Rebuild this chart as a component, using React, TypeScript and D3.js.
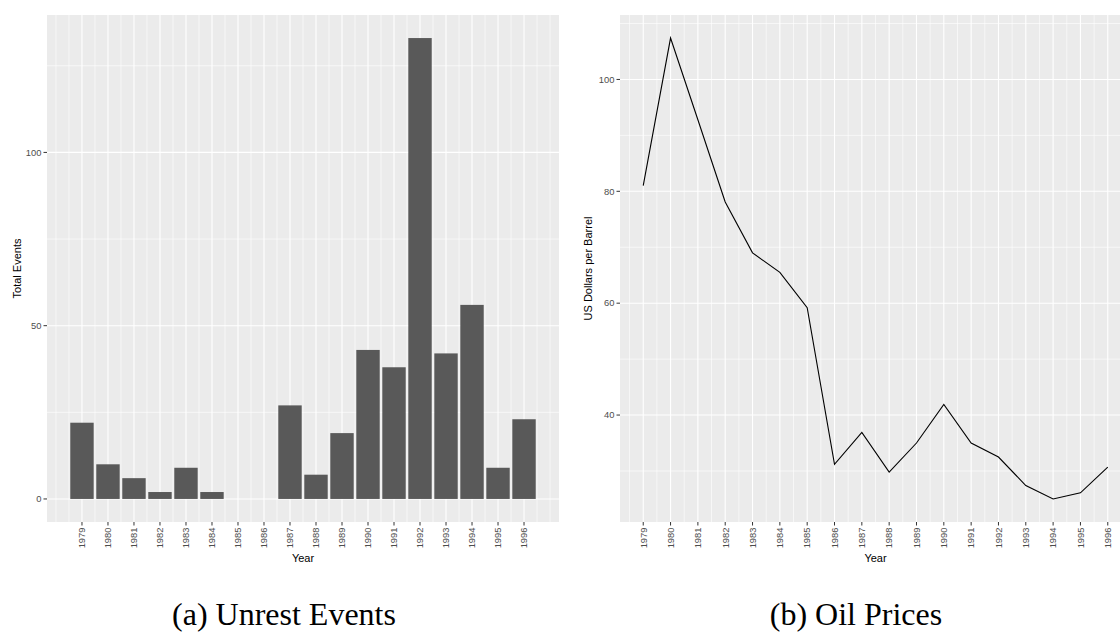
import React from 'react';
import {scaleLinear, line, range} from 'd3';

// data
const years = [1979, 1980, 1981, 1982, 1983, 1984, 1985, 1986, 1987, 1988, 1989, 1990, 1991, 1992, 1993, 1994, 1995, 1996];
const unrestEvents = [22, 10, 6, 2, 9, 2, 0, 0, 27, 7, 19, 43, 38, 133, 42, 56, 9, 23];
const oilPrices = [81.0, 107.4, 92.8, 78.1, 69.0, 65.5, 59.2, 31.2, 36.9, 29.8, 35.0, 41.9, 35.0, 32.5, 27.4, 25.0, 26.1, 30.7];

const eventTicks = [0, 50, 100];
const priceTicks = [40, 60, 80, 100];

const PANEL_BG = '#EBEBEB';
const BAR = '#595959';
const TICK_TEXT = '#4D4D4D';
const FONT = '"Liberation Sans", Arial, sans-serif';

const top = 15;
const bottom = 522;

// ggplot-style 5% expansion
const expand = (lo: number, hi: number) => {
    const d = (hi - lo) * 0.05;
    return [lo - d, hi + d];
};

// minor breaks: halfway between majors, one step beyond on each side
const minorBreaks = (majors: number[], domain: number[]) => {
    const step = majors[1] - majors[0];
    const ext = [majors[0] - step, ...majors, majors[majors.length - 1] + step];
    const out: number[] = [];
    for (let i = 0; i < ext.length - 1; i++) {
        out.push(ext[i] + step / 2);
    }
    ext.forEach(v => out.push(v));
    return out.filter(v => v >= domain[0] && v <= domain[1] && !majors.includes(v));
};

const Panel = ({x, y, xTitle, yTitle, yTitleX, children}: any) => {
    const [x0, x1] = x.range();
    const xd = x.domain();
    const yd = y.domain();
    const xMinor = minorBreaks(years, xd);
    const yMajor: number[] = y.ticksList;
    const yMinor = minorBreaks(yMajor, yd);
    const cx = (x0 + x1) / 2;
    return (
        <g>
            <rect x={x0} y={top} width={x1 - x0} height={bottom - top} fill={PANEL_BG}/>
            {yMinor.map(v => (
                <line key={'ym' + v} x1={x0} x2={x1} y1={y(v)} y2={y(v)} stroke="#fff" strokeWidth={0.6}/>
            ))}
            {xMinor.map(v => (
                <line key={'xm' + v} x1={x(v)} x2={x(v)} y1={top} y2={bottom} stroke="#fff" strokeWidth={0.6}/>
            ))}
            {yMajor.map(v => (
                <line key={'yM' + v} x1={x0} x2={x1} y1={y(v)} y2={y(v)} stroke="#fff" strokeWidth={1.1}/>
            ))}
            {years.map(v => (
                <line key={'xM' + v} x1={x(v)} x2={x(v)} y1={top} y2={bottom} stroke="#fff" strokeWidth={1.1}/>
            ))}
            {children}
            {yMajor.map(v => (
                <g key={'yt' + v}>
                    <line x1={x0 - 3.5} x2={x0} y1={y(v)} y2={y(v)} stroke="#333" strokeWidth={1}/>
                    <text x={x0 - 5.5} y={y(v)} dy="0.35em" textAnchor="end" fontSize={9.4} fill={TICK_TEXT} fontFamily={FONT}>{v}</text>
                </g>
            ))}
            {years.map(v => (
                <g key={'xt' + v}>
                    <line x1={x(v)} x2={x(v)} y1={bottom} y2={bottom + 3.5} stroke="#333" strokeWidth={1}/>
                    <text transform={`translate(${x(v)},${bottom + 5.5}) rotate(-90)`} dy="0.35em" textAnchor="end"
                          fontSize={9.4} fill={TICK_TEXT} fontFamily={FONT}>{v}</text>
                </g>
            ))}
            <text x={cx} y={562} textAnchor="middle" fontSize={11} fill="#000" fontFamily={FONT}>{xTitle}</text>
            <text transform={`translate(${yTitleX},${(top + bottom) / 2}) rotate(-90)`} textAnchor="middle"
                  fontSize={11} fill="#000" fontFamily={FONT}>{yTitle}</text>
        </g>
    );
};

export default function App() {
    // left: bar chart of unrest events
    const barPad = 0.45;
    const xA = scaleLinear()
        .domain(expand(years[0] - barPad, years[years.length - 1] + barPad))
        .range([47, 559]);
    const yA: any = scaleLinear()
        .domain(expand(0, Math.max(...unrestEvents)))
        .range([bottom, top]);
    yA.ticksList = eventTicks;
    const bw = xA(years[0] + barPad) - xA(years[0] - barPad);

    // right: oil price line
    const xB = scaleLinear()
        .domain(expand(years[0], years[years.length - 1]))
        .range([620, 1131]);
    const yB: any = scaleLinear()
        .domain(expand(Math.min(...oilPrices), Math.max(...oilPrices)))
        .range([bottom, top]);
    yB.ticksList = priceTicks;
    const priceLine = line<number>()
        .x((d, i) => xB(years[i]))
        .y(d => yB(d));

    return (
        <svg width={1120} height={633} style={{position: 'absolute', left: 0, top: 0, background: '#fff'}}>
            <Panel x={xA} y={yA} xTitle="Year" yTitle="Total Events" yTitleX={21}>
                {unrestEvents.map((v, i) => (
                    v > 0 ? <rect key={i} x={xA(years[i]) - bw / 2} y={yA(v)} width={bw} height={yA(0) - yA(v)} fill={BAR}/> : null
                ))}
            </Panel>
            <Panel x={xB} y={yB} xTitle="Year" yTitle="US Dollars per Barrel" yTitleX={592}>
                <path d={priceLine(oilPrices) || ''} fill="none" stroke="#000" strokeWidth={1.1}/>
            </Panel>
            <text x={284} y={625} textAnchor="middle" fontSize={32} fontFamily='"Liberation Serif", "Times New Roman", serif' fill="#000">(a) Unrest Events</text>
            <text x={856} y={625} textAnchor="middle" fontSize={32} fontFamily='"Liberation Serif", "Times New Roman", serif' fill="#000">(b) Oil Prices</text>
        </svg>
    );
}
